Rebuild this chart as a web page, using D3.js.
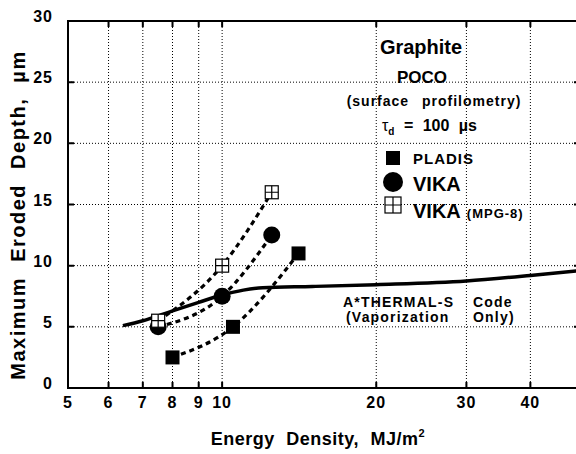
<!DOCTYPE html>
<html>
<head>
<meta charset="utf-8">
<script src="https://d3js.org/d3.v7.min.js"></script>
<style>
  body { margin: 0; background: #fff; }
  text { font-family: "Liberation Sans", Arial, sans-serif; font-weight: bold; fill: #000; }
</style>
</head>
<body>
<script>
//Width and height
var w = 576;
var h = 454;

// data
var xTicks = [5, 6, 7, 8, 9, 10, 20, 30, 40];
var yTicks = [0, 5, 10, 15, 20, 25, 30];
var xGrid = [6, 7, 8, 9, 10, 20, 30, 40];
var yGrid = [5, 10, 15, 20, 25];

var pladisEnergy = [8, 10.5, 14.1];
var pladisDepth = [2.5, 5, 11];
var vikaEnergy = [7.5, 10, 12.5];
var vikaDepth = [5, 7.5, 12.5];
var mpgEnergy = [7.5, 10, 12.5];
var mpgDepth = [5.5, 10, 16];
var codeEnergy = [6.4, 7, 7.5, 8, 9, 10, 11, 12, 15, 20, 30, 40, 50];
var codeDepth = [5.1, 5.5, 5.9, 6.3, 7.0, 7.6, 8.0, 8.2, 8.3, 8.45, 8.75, 9.2, 9.6];

var padL = 68, padR = 580, padT = 21, padB = 388;

var x = d3.scaleLog().domain([5, 50]).range([padL, padR]);
var y = d3.scaleLinear().domain([0, 30]).range([padB, padT]);

var svg = d3.select("body")
            .append("svg")
            .attr("width", w)
            .attr("height", h);

function pts(xs, ys) {
  return xs.map(function(v, i) { return [v, ys[i]]; });
}

// grid
svg.append("g").selectAll("line")
  .data(xGrid)
  .enter()
  .append("line")
  .attr("x1", function(d) { return x(d); })
  .attr("x2", function(d) { return x(d); })
  .attr("y1", padT)
  .attr("y2", padB)
  .attr("stroke", "#000")
  .attr("stroke-width", 1)
  .attr("stroke-dasharray", "1,2");

svg.append("g").selectAll("line")
  .data(yGrid)
  .enter()
  .append("line")
  .attr("x1", padL)
  .attr("x2", padR)
  .attr("y1", function(d) { return y(d); })
  .attr("y2", function(d) { return y(d); })
  .attr("stroke", "#000")
  .attr("stroke-width", 1)
  .attr("stroke-dasharray", "1,2");

// frame
svg.append("rect")
  .attr("x", padL)
  .attr("y", padT)
  .attr("width", padR - padL)
  .attr("height", padB - padT)
  .attr("fill", "none")
  .attr("stroke", "#000")
  .attr("stroke-width", 2);

// inward ticks
var tickLen = 6;
svg.append("g").selectAll("path")
  .data(xTicks.slice(1))
  .enter()
  .append("path")
  .attr("d", function(d) {
    return "M" + x(d) + "," + padB + "v" + (-tickLen) + "M" + x(d) + "," + padT + "v" + tickLen;
  })
  .attr("stroke", "#000")
  .attr("stroke-width", 2);

svg.append("g").selectAll("path")
  .data(yTicks.slice(1, -1))
  .enter()
  .append("path")
  .attr("d", function(d) {
    return "M" + padL + "," + y(d) + "h" + tickLen + "M" + padR + "," + y(d) + "h" + (-tickLen);
  })
  .attr("stroke", "#000")
  .attr("stroke-width", 2);

// tick labels
svg.append("g").selectAll("text")
  .data(xTicks)
  .enter()
  .append("text")
  .attr("x", function(d) { return x(d); })
  .attr("y", 408)
  .attr("text-anchor", "middle")
  .attr("font-size", "16px")
  .attr("letter-spacing", "1px")
  .text(function(d) { return d; });

svg.append("g").selectAll("text")
  .data(yTicks)
  .enter()
  .append("text")
  .attr("x", 53)
  .attr("y", function(d) { return y(d) + 1; })
  .attr("text-anchor", "end")
  .attr("font-size", "16px")
  .attr("letter-spacing", "1px")
  .text(function(d) { return d; });

// axis titles
var xTitle = svg.append("text")
  .attr("x", 318)
  .attr("y", 445)
  .attr("text-anchor", "middle")
  .attr("font-size", "18px")
  .attr("letter-spacing", "0.5px")
  .attr("word-spacing", "6px")
  .text("Energy Density, MJ/m");
xTitle.append("tspan")
  .attr("font-size", "11px")
  .attr("dy", "-8")
  .text("2");

svg.append("text")
  .attr("transform", "translate(25,215) rotate(-90)")
  .attr("text-anchor", "middle")
  .attr("font-size", "20px")
  .attr("letter-spacing", "1.5px")
  .attr("word-spacing", "8px")
  .text("Maximum Eroded Depth, \u00b5m");

// code curve
var line = d3.line()
  .x(function(d) { return x(d[0]); })
  .y(function(d) { return y(d[1]); })
  .curve(d3.curveMonotoneX);

svg.append("path")
  .attr("d", line(pts(codeEnergy, codeDepth)))
  .attr("fill", "none")
  .attr("stroke", "#000")
  .attr("stroke-width", 3.5);

// dashed fits
var series = [pts(pladisEnergy, pladisDepth), pts(vikaEnergy, vikaDepth), pts(mpgEnergy, mpgDepth)];
svg.append("g").selectAll("path")
  .data(series)
  .enter()
  .append("path")
  .attr("d", function(d) { return line(d); })
  .attr("fill", "none")
  .attr("stroke", "#000")
  .attr("stroke-width", 3.2)
  .attr("stroke-dasharray", "5,4");

// markers
var sq = 14;
svg.append("g").selectAll("rect")
  .data(pts(pladisEnergy, pladisDepth))
  .enter()
  .append("rect")
  .attr("x", function(d) { return x(d[0]) - sq / 2; })
  .attr("y", function(d) { return y(d[1]) - sq / 2; })
  .attr("width", sq)
  .attr("height", sq)
  .attr("fill", "#000");

svg.append("g").selectAll("circle")
  .data(pts(vikaEnergy, vikaDepth))
  .enter()
  .append("circle")
  .attr("cx", function(d) { return x(d[0]); })
  .attr("cy", function(d) { return y(d[1]); })
  .attr("r", 8.5)
  .attr("fill", "#000");

function gridBox(g, cx, cy, s) {
  g.append("rect")
    .attr("x", cx - s / 2)
    .attr("y", cy - s / 2)
    .attr("width", s)
    .attr("height", s)
    .attr("fill", "#fff")
    .attr("stroke", "#000")
    .attr("stroke-width", 1.2);
  g.append("path")
    .attr("d", "M" + cx + "," + (cy - s / 2) + "v" + s + "M" + (cx - s / 2) + "," + cy + "h" + s)
    .attr("stroke", "#000")
    .attr("stroke-width", 1.2);
}

var mpgG = svg.append("g");
pts(mpgEnergy, mpgDepth).forEach(function(d) {
  gridBox(mpgG, x(d[0]), y(d[1]), 13);
});

// annotation block
svg.append("text")
  .attr("x", 421).attr("y", 54)
  .attr("text-anchor", "middle")
  .attr("font-size", "20px")
  .text("Graphite");
svg.append("text")
  .attr("x", 422).attr("y", 83)
  .attr("text-anchor", "middle")
  .attr("font-size", "17px")
  .text("POCO");
svg.append("text")
  .attr("x", 434).attr("y", 106)
  .attr("text-anchor", "middle")
  .attr("font-size", "14px")
  .attr("letter-spacing", "1px")
  .attr("word-spacing", "8px")
  .text("(surface profilometry)");
var tau = svg.append("text")
  .attr("x", 382).attr("y", 131)
  .attr("font-size", "16px")
  .attr("word-spacing", "5px");
tau.append("tspan").attr("font-weight", "normal").text("\u03c4");
tau.append("tspan").attr("font-size", "10px").attr("dy", 4).text("d");
tau.append("tspan").attr("dy", -4).text(" = 100 \u00b5s");

// legend
var lg = svg.append("g");
lg.append("rect").attr("x", 386).attr("y", 151).attr("width", 14).attr("height", 14).attr("fill", "#000");
lg.append("text").attr("x", 413).attr("y", 164).attr("font-size", "15px").attr("letter-spacing", "1px").text("PLADIS");
lg.append("circle").attr("cx", 393).attr("cy", 182).attr("r", 10).attr("fill", "#000");
lg.append("text").attr("x", 413).attr("y", 191).attr("font-size", "20px").text("VIKA");
gridBox(lg, 393, 205, 16);
var mp = lg.append("text").attr("x", 413).attr("y", 218).attr("font-size", "20px").text("VIKA");
mp.append("tspan").attr("font-size", "13px").attr("letter-spacing", "1px").attr("dx", 6).text("(MPG-8)");

// code label
var codeLbl = svg.append("g")
  .attr("font-size", "14px")
  .attr("letter-spacing", "1.2px");
codeLbl.append("text").attr("x", 343).attr("y", 307).text("A*THERMAL-S");
codeLbl.append("text").attr("x", 473).attr("y", 307).text("Code");
codeLbl.append("text").attr("x", 346).attr("y", 322).text("(Vaporization");
codeLbl.append("text").attr("x", 473).attr("y", 322).text("Only)");
</script>
</body>
</html>
